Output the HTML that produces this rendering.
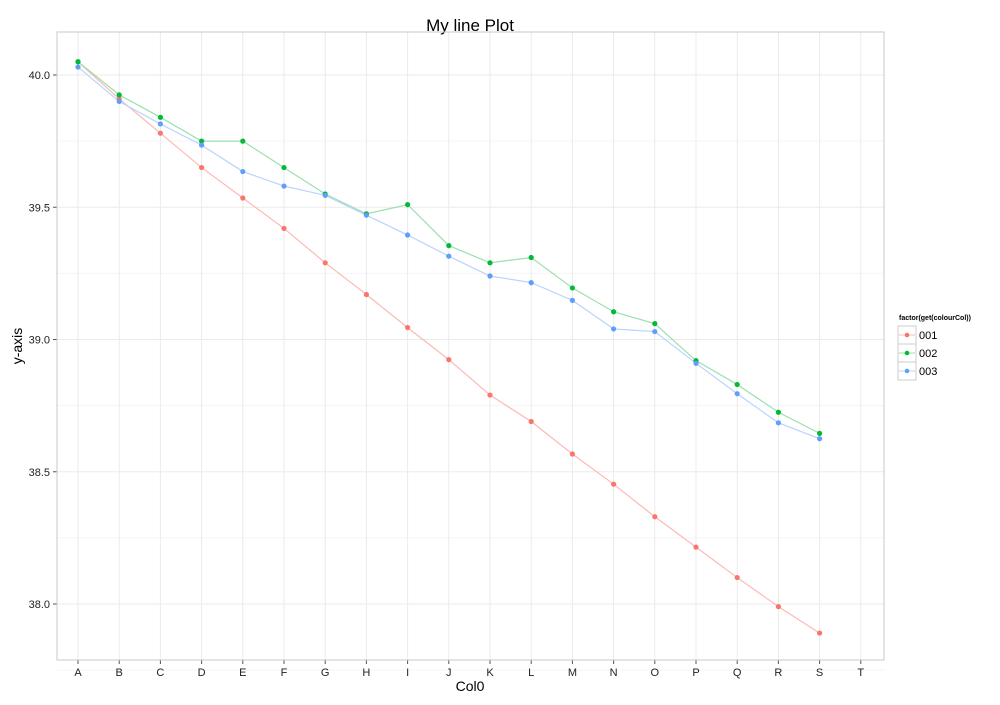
<!DOCTYPE html>
<html><head><meta charset="utf-8"><style>
body{margin:0;background:#fff;font-family:"Liberation Sans",Arial,sans-serif}
svg text{font-family:"Liberation Sans",Arial,sans-serif}
</style></head><body>
<svg id="chart" width="1000" height="700" xmlns="http://www.w3.org/2000/svg">
<rect width="1000" height="700" fill="#fff"/>
<text x="470" y="31" font-size="17" text-anchor="middle">My line Plot</text>
<g id="grid"></g>
<g id="lines"></g>
<g id="axes"></g>
<rect x="57" y="32" width="827" height="628" fill="none" stroke="#c8c8c8" stroke-width="1"/>
<text x="470" y="691" font-size="14" text-anchor="middle">Col0</text>
<text x="22" y="346" font-size="14" text-anchor="middle" transform="rotate(-90 22 346)">y-axis</text>
<g id="legend">
<text x="899" y="320" font-size="7" font-weight="bold">factor(get(colourCol))</text>
</g>
</svg>
<script>
const categories=["A","B","C","D","E","F","G","H","I","J","K","L","M","N","O","P","Q","R","S","T"];
const series001=[40.05,39.91,39.78,39.65,39.535,39.42,39.29,39.17,39.045,38.924,38.79,38.69,38.567,38.453,38.33,38.215,38.10,37.99,37.89];
const series002=[40.05,39.925,39.84,39.75,39.75,39.65,39.55,39.475,39.51,39.355,39.29,39.31,39.195,39.105,39.06,38.92,38.83,38.725,38.645];
const series003=[40.03,39.9,39.815,39.735,39.635,39.58,39.545,39.47,39.395,39.315,39.24,39.215,39.148,39.04,39.03,38.91,38.795,38.685,38.625];
const yTicks=[38.0,38.5,39.0,39.5,40.0];
const yTickLabels=["38.0","38.5","39.0","39.5","40.0"];
const yMinor=[37.75,38.25,38.75,39.25,39.75];
const seriesNames=["001","002","003"];
const colors=["#f8766d","#00ba38","#619cff"];
const lineColors=["#fbbab5","#99e0ad","#b9d3ff"];
const NS="http://www.w3.org/2000/svg";
function x(i){return 78+i*41.2;}
function y(v){return 75+(40-v)*264.5;}
function mk(tag,attrs,parent){const e=document.createElementNS(NS,tag);for(const k in attrs)e.setAttribute(k,attrs[k]);parent.appendChild(e);return e;}
const grid=document.getElementById('grid'),lines=document.getElementById('lines'),axes=document.getElementById('axes'),legend=document.getElementById('legend');
yMinor.forEach(v=>{const l=mk('line',{x1:57,x2:884,y1:y(v),y2:y(v),stroke:'#f5f5f5','stroke-width':1},grid);

});
yTicks.forEach((v,i)=>{const l=mk('line',{x1:57,x2:884,y1:y(v),y2:y(v),stroke:'#ebebeb','stroke-width':1},grid);


const t=mk('line',{x1:53,x2:57,y1:y(v),y2:y(v),stroke:'#555'},axes);


const tx=mk('text',{x:50,y:y(v)+4,'font-size':11,'text-anchor':'end',fill:'#222'},axes);tx.textContent=yTickLabels[i];

});
categories.forEach((c,i)=>{const l=mk('line',{x1:x(i),x2:x(i),y1:32,y2:660,stroke:'#ebebeb'},grid);


const t=mk('line',{x1:x(i),x2:x(i),y1:660,y2:664,stroke:'#555'},axes);


const tx=mk('text',{x:x(i),y:676,'font-size':11,'text-anchor':'middle',fill:'#222'},axes);tx.textContent=c;

});
[series001,series002,series003].forEach((s,k)=>{
const p=mk('polyline',{points:s.map((v,i)=>x(i)+','+y(v)).join(' '),fill:'none',stroke:lineColors[k],'stroke-width':1.2},lines);

});
[series001,series002,series003].forEach((s,k)=>{s.forEach((v,i)=>{
const c=mk('circle',{cx:x(i),cy:y(v),r:2.6,fill:colors[k]},lines);

});});
seriesNames.forEach((n,k)=>{const yy=326+k*18;
const b=mk('rect',{x:898,y:yy,width:18,height:18,fill:'#fff',stroke:'#ccc'},legend);


const l=mk('line',{x1:899,x2:915,y1:yy+9,y2:yy+9,stroke:lineColors[k]},legend);


const c=mk('circle',{cx:907,cy:yy+9,r:2.3,fill:colors[k]},legend);


const t=mk('text',{x:919,y:yy+13,'font-size':11},legend);t.textContent=n;

});
</script>
</body></html>
